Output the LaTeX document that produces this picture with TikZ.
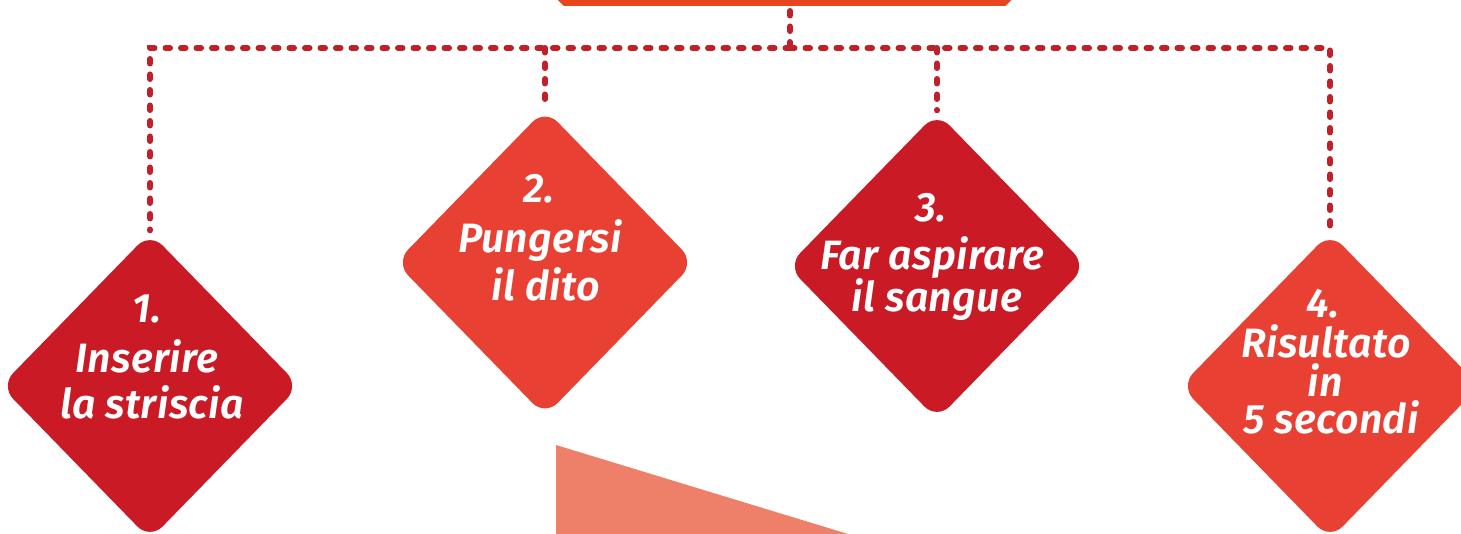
\documentclass[tikz,border=0pt]{standalone}
\usepackage{fontspec}
\newfontfamily\labfont{Fira Sans SemiBold Italic}[LetterSpace=1]
\usetikzlibrary{shapes.geometric}
\definecolor{darkred}{HTML}{C91A25}
\definecolor{lightred}{HTML}{E84133}
\definecolor{dashred}{HTML}{C0202A}
\definecolor{boxorange}{HTML}{E8451E}
\definecolor{salmon}{HTML}{EE806A}
\begin{document}
\begin{tikzpicture}[x=1pt,y=-1pt,
  stepdiamond/.style={diamond, minimum width=299pt, minimum height=307pt, inner sep=0pt, rounded corners=18pt},
  steptext/.style={anchor=base, text=white, inner sep=0pt, font=\labfont\fontsize{41}{48}\selectfont},
  connector/.style={draw=dashred, line width=6pt, dash pattern=on 4.5pt off 11pt, line cap=round},
  boxline/.style={draw=boxorange, line width=6pt}]
\useasboundingbox (0,0) rectangle (1461,534);
\clip (0,0) rectangle (1461,534);
% top box (mostly outside the picture)
\draw[boxline] (551,-11) -- (565,3) -- (1004,3) -- (1018,-11);
\coordinate (topbox) at (790,3);
\coordinate (bus) at (790,48);
% salmon triangle
\fill[salmon] (556,445) -- (848,534) -- (556,534) -- cycle;
% diamonds
\node[stepdiamond, fill=darkred]  (d1) at (150,386) {};
\node[stepdiamond, fill=lightred] (d2) at (545,262.5) {};
\node[stepdiamond, fill=darkred]  (d3) at (937,266) {};
\node[stepdiamond, fill=lightred] (d4) at (1330,386) {};
% connectors
\draw[connector, shorten <=8pt] (topbox) -- (bus);
\draw[connector, shorten >=2pt] (bus) -- (bus -| d1.north) -- (d1.north);
\draw[connector, shorten >=2pt] (bus) -- (bus -| d4.north) -- (d4.north);
\draw[connector, shorten >=2pt] (bus -| d2.north) -- (d2.north);
\draw[connector, shorten >=2pt] (bus -| d3.north) -- (d3.north);
% texts
\node[steptext] (t1a) at (147,323) {1.};
\node[steptext] (t1b) at (147,372) {Inserire};
\node[steptext] (t1c) at (152,418) {la striscia};
\node[steptext] (t2a) at (539,203) {2.};
\node[steptext] (t2b) at (540,253) {Pungersi};
\node[steptext] (t2c) at (546,300.5) {il dito};
\node[steptext] (t3a) at (931,222) {3.};
\node[steptext] (t3b) at (932,270) {Far aspirare};
\node[steptext] (t3c) at (937,312) {il sangue};
\node[steptext] (t4a) at (1323,318) {4.};
\node[steptext] (t4b) at (1326,358) {Risultato};
\node[steptext] (t4c) at (1325,396) {in};
\node[steptext] (t4d) at (1331,433) {5 secondi};
\end{tikzpicture}
\end{document}
